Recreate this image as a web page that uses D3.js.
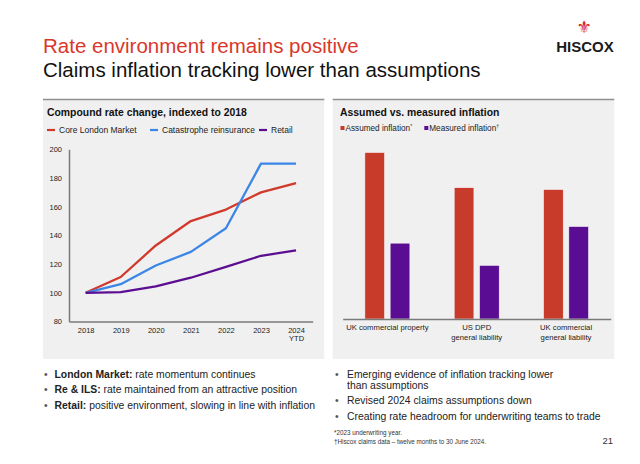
<!DOCTYPE html>
<html><head><meta charset="utf-8">
<script src="https://cdn.jsdelivr.net/npm/d3@7"></script>
<style>
body{margin:0;background:#fff;}
text{font-family:"Liberation Sans",Arial,sans-serif;}
</style></head>
<body><svg id="c" width="640" height="464"></svg>
<script>
// ---- data ----
const years = ["2018","2019","2020","2021","2022","2023","2024 YTD"];
const coreLondon = [100,111,133,150,158,170,176.5];
const catReinsurance = [100,106,119,128.5,145,190,190];
const retail = [100,100.5,104.5,110.5,118,125.8,129.5];
const lineSeriesNames = ["Core London Market","Catastrophe reinsurance","Retail"];
const yTicks = [80,100,120,140,160,180,200];

const inflCategories = ["UK commercial property","US DPD general liability","UK commercial general liability"];
const inflLabels = [["UK commercial property"],["US DPD","general liability"],["UK commercial","general liability"]];
const assumedInflation = [9.0,7.1,7.0];
const measuredInflation = [4.1,2.9,5.0];
const barSeriesNames = [["Assumed inflation","*"],["Measured inflation","\u2020"]];

const leftBullets = [["London Market:"," rate momentum continues"],["Re & ILS:"," rate maintained from an attractive position"],["Retail:"," positive environment, slowing in line with inflation"]];
const rightBullets = [["Emerging evidence of inflation tracking lower","than assumptions"],["Revised 2024 claims assumptions down"],["Creating rate headroom for underwriting teams to trade"]];

// ---- styles ----
const RED="#d0392c", BLUE="#3b86e6", PURPLE="#5b0e91", BARRED="#c83b2b", BARPURPLE="#5a0c92";
const svg = d3.select("#c");

// titles
svg.append("text").attr("x",43).attr("y",53).attr("font-size",20.5).attr("fill","#d9372b").text("Rate environment remains positive");
svg.append("text").attr("x",43).attr("y",77).attr("font-size",20.5).attr("fill","#111").text("Claims inflation tracking lower than assumptions");

// logo
svg.append("text").attr("x",584).attr("y",33).attr("text-anchor","middle").attr("font-size",17).attr("fill","#d7262b").style("font-family","DejaVu Sans").text("\u269C");
svg.append("text").attr("x",585).attr("y",52).attr("text-anchor","middle").attr("font-size",15).attr("fill","#1a1a1a").attr("font-weight","bold").text("HISCOX");

// panels
[[43,324.3],[332.7,614.3]].forEach(([x0,x1])=>{
  svg.append("rect").attr("x",x0).attr("y",99).attr("width",x1-x0).attr("height",260).attr("fill","#f0f0f0");
  svg.append("line").attr("x1",x0).attr("x2",x1).attr("y1",99.5).attr("y2",99.5).attr("stroke","#8f8f8f").attr("stroke-width",1.5);
});

// ---- left line chart ----
svg.append("text").attr("x",47).attr("y",116).attr("font-size",10.4).attr("font-weight","bold").attr("fill","#111").text("Compound rate change, indexed to 2018");
const lineColors=[RED,BLUE,PURPLE];
const legX=[47,150,259];
lineSeriesNames.forEach((n,i)=>{
  svg.append("line").attr("x1",legX[i]).attr("x2",legX[i]+8).attr("y1",130).attr("y2",130).attr("stroke",lineColors[i]).attr("stroke-width",2.2);
  svg.append("text").attr("x",legX[i]+12).attr("y",133).attr("font-size",8.5).attr("fill","#222").text(n);
});
const x = d3.scalePoint().domain(years).range([69,312.7]).padding(0.475);
const y = d3.scaleLinear().domain([80,200]).range([321.5,149.3]);
const gy = svg.append("g").attr("transform","translate(69,0)")
  .call(d3.axisLeft(y).tickValues(yTicks).tickSize(0).tickPadding(7));
gy.select(".domain").attr("stroke","#7a7a7a").attr("stroke-width",1.5);
gy.selectAll("text").attr("font-size",7.5).attr("fill","#222").style("font-family","Liberation Sans, Arial, sans-serif");
const gx = svg.append("g").attr("transform","translate(0,321.5)")
  .call(d3.axisBottom(x).tickSize(0).tickPadding(6));
gx.select(".domain").attr("stroke","#7a7a7a").attr("stroke-width",1.5);
gx.selectAll("text").attr("font-size",7.5).attr("fill","#222").style("font-family","Liberation Sans, Arial, sans-serif")
  .each(function(d){
    const t=d3.select(this); const parts=d.split(" "); t.text(null);
    parts.forEach((p,i)=>t.append("tspan").attr("x",0).attr("dy",i?"1.15em":"0.71em").text(p));
  });
const line = d3.line().x((d,i)=>x(years[i])).y(d=>y(d));
[coreLondon,catReinsurance,retail].forEach((s,i)=>{
  svg.append("path").datum(s).attr("d",line).attr("fill","none").attr("stroke",lineColors[i]).attr("stroke-width",2.3).attr("stroke-linejoin","round");
});

// ---- right bar chart ----
svg.append("text").attr("x",340).attr("y",116).attr("font-size",10.4).attr("font-weight","bold").attr("fill","#111").text("Assumed vs. measured inflation");
const barColors=[BARRED,BARPURPLE];
const bLegX=[340.5,424.3];
barSeriesNames.forEach((n,i)=>{
  svg.append("rect").attr("x",bLegX[i]).attr("y",126).attr("width",4).attr("height",4).attr("fill",barColors[i]);
  const t=svg.append("text").attr("x",bLegX[i]+5).attr("y",131).attr("font-size",8.2).attr("fill","#222");
  t.append("tspan").text(n[0]);
  t.append("tspan").attr("font-size",5).attr("dy",-3).text(n[1]);
});
const bx = d3.scaleBand().domain(inflCategories).range([342.7,610.7]).padding(0);
const bs = d3.scaleBand().domain([0,1]).range([0,bx.bandwidth()]).paddingInner(0.22).paddingOuter(0.876);
const by = d3.scaleLinear().domain([0,10]).range([319,134]);
const series=[assumedInflation,measuredInflation];
inflCategories.forEach((c,ci)=>{
  series.forEach((s,si)=>{
    svg.append("rect").attr("x",bx(c)+bs(si)).attr("y",by(s[ci])).attr("width",bs.bandwidth()).attr("height",by(0)-by(s[ci]))
      .attr("fill",barColors[si]).attr("stroke","#f6f6f6").attr("stroke-width",0.6);
  });
});
const gb = svg.append("g").attr("transform","translate(0,319)").call(d3.axisBottom(bx).tickSize(0).tickPadding(6).tickSizeOuter(0));
gb.select(".domain").attr("stroke","#7a7a7a").attr("stroke-width",1.3);
gb.selectAll("text").attr("font-size",7.7).attr("fill","#222").style("font-family","Liberation Sans, Arial, sans-serif")
  .each(function(d,i){
    const t=d3.select(this); t.text(null);
    inflLabels[i].forEach((p,j)=>t.append("tspan").attr("x",0).attr("dy",j?"1.2em":"0.71em").text(p));
  });

// ---- bullets ----
const FS=10.4;
leftBullets.forEach((b,i)=>{
  const yy=377.5+i*15.5;
  svg.append("text").attr("x",44).attr("y",yy).attr("font-size",FS).attr("fill","#555").text("\u2022");
  const t=svg.append("text").attr("x",54.5).attr("y",yy).attr("font-size",FS).attr("fill","#222");
  t.append("tspan").attr("font-weight","bold").text(b[0]);
  t.append("tspan").text(b[1]);
});
let ry=377.5;
rightBullets.forEach((b)=>{
  svg.append("text").attr("x",335).attr("y",ry).attr("font-size",FS).attr("fill","#555").text("\u2022");
  b.forEach((l,j)=>{
    svg.append("text").attr("x",347).attr("y",ry+j*11).attr("font-size",FS).attr("fill","#222").text(l);
  });
  ry += (b.length-1)*11+15.6;
});
svg.append("text").attr("x",334).attr("y",435).attr("font-size",6.3).attr("fill","#333").text("*2023 underwriting year.");
svg.append("text").attr("x",334).attr("y",444).attr("font-size",6.3).attr("fill","#333").text("\u2020Hiscox claims data \u2013 twelve months to 30 June 2024.");
svg.append("text").attr("x",613).attr("y",444).attr("text-anchor","end").attr("font-size",9.5).attr("fill","#333").text("21");
</script></body></html>
